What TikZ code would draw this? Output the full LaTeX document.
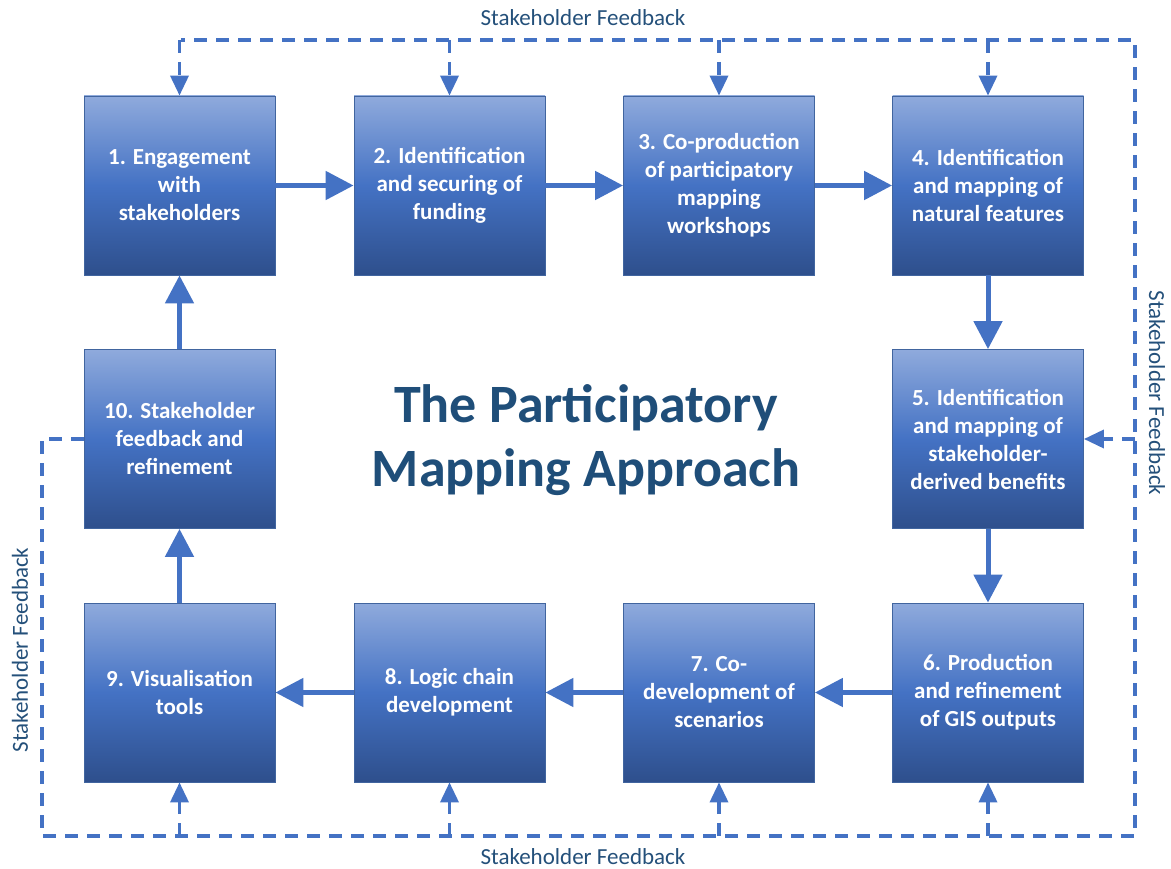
\documentclass[tikz,border=0pt]{standalone}
\usepackage{fontspec}
\setmainfont{Carlito}
\usetikzlibrary{arrows.meta}
\definecolor{accent}{HTML}{4472C4}
\definecolor{boxtop}{HTML}{8FAADC}
\definecolor{boxbot}{HTML}{2E4F8C}
\definecolor{boxedge}{HTML}{41659F}
\definecolor{titleblue}{HTML}{1F4E79}
\definecolor{labelblue}{HTML}{24507A}
\begin{document}
\begin{tikzpicture}[x=1pt,y=-1pt,
  stepbox/.style={draw=boxedge, line width=0.8pt, minimum width=191pt, minimum height=179pt,
    top color=boxtop, bottom color=boxbot, middle color=accent,
    text=white, align=center, font=\bfseries\fontsize{23}{28}\selectfont, inner sep=0pt},
  flow/.style={accent, line width=5pt, -{Triangle[length=28pt,width=28pt]}},
  fb/.style={accent, line width=3.5pt, dash pattern=on 13pt off 9pt},
  fbarrow/.style={fb, -{Triangle[length=20pt,width=18pt]}},
  fblabel/.style={text=labelblue, font=\fontsize{23}{28}\selectfont, inner sep=0pt}]
\useasboundingbox (0,0) rectangle (1171,869);

% process steps
\node[stepbox] (b1) at (179.5,185.5) {1. Engagement\\with\\stakeholders};
\node[stepbox] (b2) at (449.5,185.5) {2. Identification\\and securing of\\funding};
\node[stepbox] (b3) at (719,185.5) {3. Co-production\\of participatory\\mapping\\workshops};
\node[stepbox] (b4) at (988,185.5) {4. Identification\\and mapping of\\natural features};
\node[stepbox] (b5) at (988,439) {5. Identification\\and mapping of\\stakeholder-\\derived benefits};
\node[stepbox] (b6) at (988,692.5) {6. Production\\and refinement\\of GIS outputs};
\node[stepbox] (b7) at (719,692.5) {7. Co-\\development of\\scenarios};
\node[stepbox] (b8) at (449.5,692.5) {8. Logic chain\\development};
\node[stepbox] (b9) at (179.5,692.5) {9. Visualisation\\tools};
\node[stepbox] (b10) at (179.5,439) {10. Stakeholder\\feedback and\\refinement};

% title
\node[text=titleblue, align=center, font=\bfseries\fontsize{54}{64}\selectfont] (title) at (586,440)
  {The Participatory\\Mapping Approach};

% main cycle
\draw[flow] (b1) -- (b2);
\draw[flow] (b2) -- (b3);
\draw[flow] (b3) -- (b4);
\draw[flow] (b4) -- (b5);
\draw[flow] (b5) -- (b6);
\draw[flow] (b6) -- (b7);
\draw[flow] (b7) -- (b8);
\draw[flow] (b8) -- (b9);
\draw[flow] (b9) -- (b10);
\draw[flow] (b10) -- (b1);

% feedback loop corners
\coordinate (tl) at (181,40);
\coordinate (tr) at (1135,40);
\coordinate (br) at (1135,836);
\coordinate (bl) at (42,836);
\coordinate (lt) at (42,439);

\draw[fb] (b10.west) -- (lt) -- (bl) -- (br) -- (tr) -- (tl);

% feedback branches
\draw[fbarrow] (b1.north |- tl) -- (b1.north);
\draw[fbarrow] (b2.north |- tl) -- (b2.north);
\draw[fbarrow] (b3.north |- tl) -- (b3.north);
\draw[fbarrow] (b4.north |- tl) -- (b4.north);
\draw[fbarrow] (b5.east -| tr) -- (b5.east);
\draw[fbarrow] (b6.south |- bl) -- (b6.south);
\draw[fbarrow] (b7.south |- bl) -- (b7.south);
\draw[fbarrow] (b8.south |- bl) -- (b8.south);
\draw[fbarrow] (b9.south |- bl) -- (b9.south);

% feedback labels
\node[fblabel] (ltop) at (583,18) {Stakeholder Feedback};
\node[fblabel] (lbot) at (583,857) {Stakeholder Feedback};
\node[fblabel, rotate=-90] (lright) at (1157,393) {Stakeholder Feedback};
\node[fblabel, rotate=90] (lleft) at (20,650) {Stakeholder Feedback};
\end{tikzpicture}
\end{document}
